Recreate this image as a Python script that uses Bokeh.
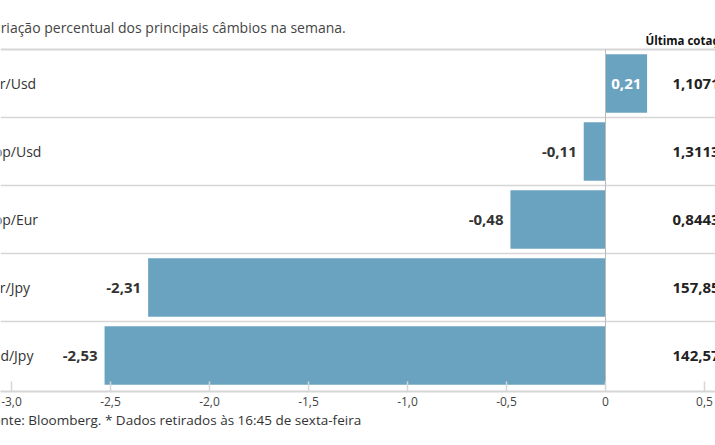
from bokeh.plotting import figure
from bokeh.models import Range1d, FixedTicker, ColumnDataSource, Label, Title
from bokeh.core.properties import value
from bokeh.embed import file_html
from bokeh.resources import INLINE

# ---------------- data ----------------
pairs = ["Eur/Usd", "Gbp/Usd", "Gbp/Eur", "Eur/Jpy", "Usd/Jpy"]
changes = [0.21, -0.11, -0.48, -2.31, -2.53]
last_quotes = ["1,1071", "1,3113", "0,8443", "157,85", "142,57"]
tick_values = [-3.0, -2.5, -2.0, -1.5, -1.0, -0.5, 0.0, 0.5]
tick_labels = ["-3,0", "-2,5", "-2,0", "-1,5", "-1,0", "-0,5", "0", "0,5"]
title_text = "Variação percentual dos principais câmbios na semana."
quote_header = "Última cotação*"
source_text = "Fonte: Bloomberg.  * Dados retirados às 16:45 de sexta-feira"

# ---------------- layout constants ----------------
W, H = 715, 445
PX_PER_UNIT = 198.0
ZERO_PX = 605.0
ROW_PX = 68.0
ROW0_PX = 83.0
FRAME_BOTTOM_PX = 391.0

FONT = "Open Sans"
BAR_COLOR = "#6aa3bf"
TEXT_COLOR = "#333333"
LINE_COLOR = "#d6d6d6"

def fmt(v):
    return ("%.2f" % v).replace(".", ",")

rows = list(range(len(pairs)))

x_range = Range1d(-ZERO_PX / PX_PER_UNIT, (W - ZERO_PX) / PX_PER_UNIT)
y_range = Range1d((FRAME_BOTTOM_PX - ROW0_PX) / ROW_PX, (0 - ROW0_PX) / ROW_PX)

p = figure(width=W, height=H, x_range=x_range, y_range=y_range,
           output_backend="svg", toolbar_location=None,
           y_axis_location=None, x_axis_location="below",
           min_border_left=0, min_border_right=0, min_border_top=0,
           min_border_bottom=int(H - FRAME_BOTTOM_PX),
           outline_line_color=None)
p.grid.grid_line_color = None
p.background_fill_color = "white"
p.border_fill_color = "white"

# x axis
ax = p.xaxis[0]
ax.ticker = FixedTicker(ticks=tick_values)
ax.major_label_overrides = {t: l for t, l in zip(tick_values, tick_labels)}
ax.axis_line_color = LINE_COLOR
ax.axis_line_width = 2
ax.major_tick_in = 10
ax.major_tick_out = 0
ax.major_tick_line_color = LINE_COLOR
ax.major_tick_line_width = 1.5
ax.minor_tick_line_color = None
ax.major_label_text_font = FONT
ax.major_label_text_font_size = "12px"
ax.major_label_text_color = "#444444"
ax.major_label_standoff = 5

# footnote below the axis
p.add_layout(Title(text=source_text, align="left", offset=-15, standoff=0,
                   text_font=FONT, text_font_size="13.5px", text_font_style="normal",
                   text_color=TEXT_COLOR), "below")

# separators
sep_y = [r + 0.5 for r in rows[:-1]]
p.segment(x0=[x_range.start] * len(sep_y), x1=[x_range.end] * len(sep_y),
          y0=sep_y, y1=sep_y, line_color=LINE_COLOR, line_width=1.5)
p.segment(x0=[x_range.start], x1=[x_range.end], y0=[rows[0] - 0.5], y1=[rows[0] - 0.5],
          line_color=LINE_COLOR, line_width=2)

# bars
src = ColumnDataSource(dict(y=rows, v=changes, pair=pairs, quote=last_quotes))
p.hbar(y="y", left=0, right="v", height=0.86, source=src,
       fill_color=BAR_COLOR, line_color=None)

# zero line
p.segment(x0=[0], x1=[0], y0=[rows[0] - 0.5], y1=[y_range.start],
          line_color="#bbbbbb", line_width=1)

# bar value labels
pos = [(r, v) for r, v in zip(rows, changes) if v >= 0]
neg = [(r, v) for r, v in zip(rows, changes) if v < 0]
if pos:
    p.text(x=[v / 2 for _, v in pos], y=[r for r, _ in pos], text=[fmt(v) for _, v in pos],
           text_align="center", text_baseline="middle", text_color="white",
           text_font=value(FONT), text_font_style="bold", text_font_size="15px")
if neg:
    p.text(x=[v for _, v in neg], y=[r for r, _ in neg], text=[fmt(v) for _, v in neg],
           x_offset=-7, text_align="right", text_baseline="middle", text_color=TEXT_COLOR,
           text_font=value(FONT), text_font_style="bold", text_font_size="15px")

# category labels (left)
p.text(x=-3.0, y="y", text="pair", source=src, x_offset=-28,
       text_align="left", text_baseline="middle", text_color=TEXT_COLOR,
       text_font=value(FONT), text_font_size="14px")

# last quote column
p.text(x=(672 - ZERO_PX) / PX_PER_UNIT, y="y", text="quote", source=src,
       text_align="left", text_baseline="middle", text_color="#222222",
       text_font=value(FONT), text_font_style="bold", text_font_size="15px")

# title, header
p.add_layout(Label(x=-3.0, y=(27 - ROW0_PX) / ROW_PX, x_offset=-27, text=title_text,
                   text_align="left", text_baseline="middle", text_color="#444444",
                   text_font=FONT, text_font_size="14px"))
p.add_layout(Label(x=(645 - ZERO_PX) / PX_PER_UNIT, y=(40 - ROW0_PX) / ROW_PX, text=quote_header,
                   text_align="left", text_baseline="middle", text_color="#111111",
                   text_font=FONT, text_font_style="bold", text_font_size="11.5px"))

open("out.html", "w").write(file_html(p, INLINE))
